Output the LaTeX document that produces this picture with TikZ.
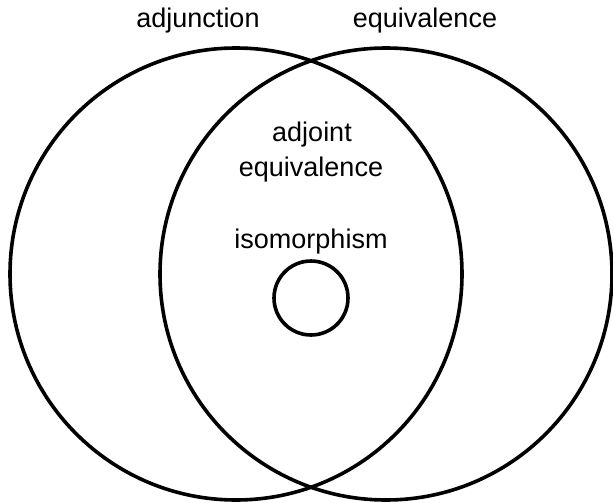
\documentclass[tikz,border=0pt]{standalone}
\usepackage{fontspec}
\setmainfont{Liberation Sans}
\begin{document}
\begin{tikzpicture}[x=1pt,y=-1pt,
  setring/.style={circle,draw=black,line width=3.6pt,inner sep=0pt,outer sep=0pt},
  lbl/.style={anchor=base,inner sep=0pt,font=\fontsize{27}{33}\selectfont}]
\useasboundingbox (0,0) rectangle (613,503);
\node[setring,minimum size=452pt] (adjunction) at (236,274) {};
\node[setring,minimum size=452pt] (equivalence) at (386,274) {};
\node[setring,minimum size=74pt] (iso) at (311,298) {};
\node[lbl] (tadj) at (198,28) {adjunction};
\node[lbl] (teq) at (425,28) {equivalence};
\node[lbl] (tae1) at (312,141) {adjoint};
\node[lbl] (tae2) at (311,176) {equivalence};
\node[lbl] (tiso) at (311,248) {isomorphism};
\end{tikzpicture}
\end{document}
